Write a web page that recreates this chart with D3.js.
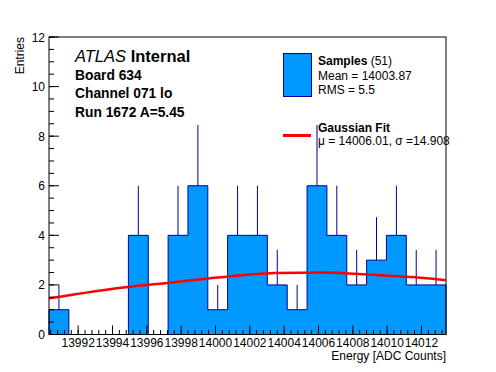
<!DOCTYPE html>
<html>
<head>
<meta charset="utf-8">
<script src="https://cdn.jsdelivr.net/npm/d3@7"></script>
<style>
  body { margin: 0; background: #fff; }
  svg { display: block; font-family: "Liberation Sans", Arial, sans-serif; }
</style>
</head>
<body>
<div id="chart"></div>
<script>
(function() {
	// histogram: 20 bins, counts
	var binStart = 13990.30,
		binEnd = 14013.43;
	var counts = [1, 0, 0, 0, 4, 0, 4, 6, 1, 4, 4, 2, 1, 6, 4, 2, 3, 4, 2, 2];

	// gaussian fit curve
	var fitX = [13990.3, 13994.9, 13997.2, 13999.6, 14001.7, 14003.5, 14006.3, 14008.6, 14010.3, 14011.3, 14012.3, 14013.4];
	var fitY = [1.46, 1.92, 2.08, 2.26, 2.40, 2.48, 2.50, 2.43, 2.36, 2.32, 2.27, 2.19];

	var xTicks = [13992, 13994, 13996, 13998, 14000, 14002, 14004, 14006, 14008, 14010, 14012];
	var yTicks = [0, 2, 4, 6, 8, 10, 12];

	var labelLines = ["Board 634", "Channel 071 lo", "Run 1672 A=5.45"];

	var width = 496, height = 372;
	var left = 49, right = 446, top = 37, bottom = 334.5;

	var svg = d3.select("#chart")
				.append("svg")
				.attr("width", width)
				.attr("height", height);

	var xScale = d3.scaleLinear()
					.domain([binStart, binEnd])
					.range([left, right]);

	var yScale = d3.scaleLinear()
					.domain([0, 12])
					.range([bottom, top]);

	var binWidth = (binEnd - binStart) / counts.length;
	var bins = counts.map(function(c, i) {
		return { x0: binStart + i * binWidth, x1: binStart + (i + 1) * binWidth, n: c };
	});

	var fill = "#0099ff", edge = "#000099";

	// error bars (only the upper half shows above the fill)
	svg.selectAll(".err")
		.data(bins.filter(function(d) { return d.n > 0; }))
		.enter()
		.append("line")
		.attr("class", "err")
		.attr("x1", function(d) { return xScale((d.x0 + d.x1) / 2); })
		.attr("x2", function(d) { return xScale((d.x0 + d.x1) / 2); })
		.attr("y1", function(d) { return yScale(d.n); })
		.attr("y2", function(d) { return yScale(d.n + Math.sqrt(d.n)); })
		.attr("stroke", edge)
		.attr("stroke-width", 1);

	// histogram as one step contour, filled then stroked
	var steps = [[binStart, 0]];
	bins.forEach(function(d) {
		steps.push([d.x0, d.n]);
		steps.push([d.x1, d.n]);
	});
	steps.push([binEnd, 0]);

	var stepLine = d3.line()
		.x(function(d) { return xScale(d[0]); })
		.y(function(d) { return yScale(d[1]); });

	svg.append("path")
		.datum(steps)
		.attr("d", stepLine)
		.attr("fill", fill)
		.attr("stroke", "none");

	svg.append("path")
		.datum(steps)
		.attr("d", stepLine)
		.attr("fill", "none")
		.attr("stroke", edge)
		.attr("stroke-width", 1);

	// fit curve
	var fitPts = fitX.map(function(v, i) { return [v, fitY[i]]; });
	svg.append("path")
		.datum(fitPts)
		.attr("d", d3.line()
			.curve(d3.curveMonotoneX)
			.x(function(d) { return xScale(d[0]); })
			.y(function(d) { return yScale(d[1]); }))
		.attr("fill", "none")
		.attr("stroke", "#ff0000")
		.attr("stroke-width", 2.5);

	// frame
	svg.append("rect")
		.attr("x", left)
		.attr("y", top)
		.attr("width", right - left)
		.attr("height", bottom - top)
		.attr("fill", "none")
		.attr("stroke", "#000")
		.attr("stroke-width", 1);

	// x axis ticks
	var xMinor = d3.range(13990.4, binEnd, 0.4);
	svg.selectAll(".xminor")
		.data(xMinor)
		.enter()
		.append("line")
		.attr("x1", function(d) { return xScale(d); })
		.attr("x2", function(d) { return xScale(d); })
		.attr("y1", bottom)
		.attr("y2", bottom - 4.5)
		.attr("stroke", "#000");

	svg.selectAll(".xmajor")
		.data(xTicks)
		.enter()
		.append("line")
		.attr("x1", function(d) { return xScale(d); })
		.attr("x2", function(d) { return xScale(d); })
		.attr("y1", bottom)
		.attr("y2", bottom - 9)
		.attr("stroke", "#000");

	svg.selectAll(".xlabel")
		.data(xTicks)
		.enter()
		.append("text")
		.attr("x", function(d) { return xScale(d); })
		.attr("y", 347)
		.attr("text-anchor", "middle")
		.attr("font-size", 12)
		.text(function(d) { return d; });

	// y axis ticks
	var yMinor = d3.range(0, 12.01, 0.5);
	svg.selectAll(".yminor")
		.data(yMinor)
		.enter()
		.append("line")
		.attr("x1", left)
		.attr("x2", left + 5)
		.attr("y1", function(d) { return yScale(d); })
		.attr("y2", function(d) { return yScale(d); })
		.attr("stroke", "#000");

	svg.selectAll(".ymajor")
		.data(yTicks)
		.enter()
		.append("line")
		.attr("x1", left)
		.attr("x2", left + 10)
		.attr("y1", function(d) { return yScale(d); })
		.attr("y2", function(d) { return yScale(d); })
		.attr("stroke", "#000");

	svg.selectAll(".ylabel")
		.data(yTicks)
		.enter()
		.append("text")
		.attr("x", 45)
		.attr("y", function(d) { return yScale(d) + 4.5; })
		.attr("text-anchor", "end")
		.attr("font-size", 12)
		.text(function(d) { return d; });

	// axis titles
	svg.append("text")
		.attr("x", right)
		.attr("y", 360)
		.attr("text-anchor", "end")
		.attr("font-size", 12)
		.text("Energy [ADC Counts]");

	svg.append("text")
		.attr("transform", "translate(24," + top + ") rotate(-90)")
		.attr("text-anchor", "end")
		.attr("font-size", 12)
		.text("Entries");

	// ATLAS label
	var atlas = svg.append("text")
		.attr("x", 75)
		.attr("y", 62)
		.attr("font-size", 16.5);
	atlas.append("tspan").attr("font-style", "italic").text("ATLAS");
	atlas.append("tspan").attr("font-weight", "bold").text(" Internal");

	svg.selectAll(".info")
		.data(labelLines)
		.enter()
		.append("text")
		.attr("x", 75)
		.attr("y", function(d, i) { return 80 + i * 18.3; })
		.attr("font-size", 13.8)
		.attr("font-weight", "bold")
		.text(function(d) { return d; });

	// legend
	svg.append("rect")
		.attr("x", 283.5)
		.attr("y", 53.5)
		.attr("width", 28)
		.attr("height", 43)
		.attr("fill", fill)
		.attr("stroke", edge);

	var s = svg.append("text")
		.attr("x", 318)
		.attr("y", 65)
		.attr("font-size", 12);
	s.append("tspan").attr("font-weight", "bold").text("Samples");
	s.append("tspan").text(" (51)");

	svg.append("text")
		.attr("x", 318)
		.attr("y", 79.5)
		.attr("font-size", 12)
		.text("Mean = 14003.87");

	svg.append("text")
		.attr("x", 318)
		.attr("y", 93.5)
		.attr("font-size", 12)
		.text("RMS = 5.5");

	svg.append("line")
		.attr("x1", 283)
		.attr("x2", 311)
		.attr("y1", 135.5)
		.attr("y2", 135.5)
		.attr("stroke", "#ff0000")
		.attr("stroke-width", 3);

	svg.append("text")
		.attr("x", 318)
		.attr("y", 131.5)
		.attr("font-size", 12)
		.attr("font-weight", "bold")
		.text("Gaussian Fit");

	svg.append("text")
		.attr("x", 318)
		.attr("y", 145)
		.attr("font-size", 12)
		.text("\u03bc = 14006.01, \u03c3 =14.908");
})();
</script>
</body>
</html>
